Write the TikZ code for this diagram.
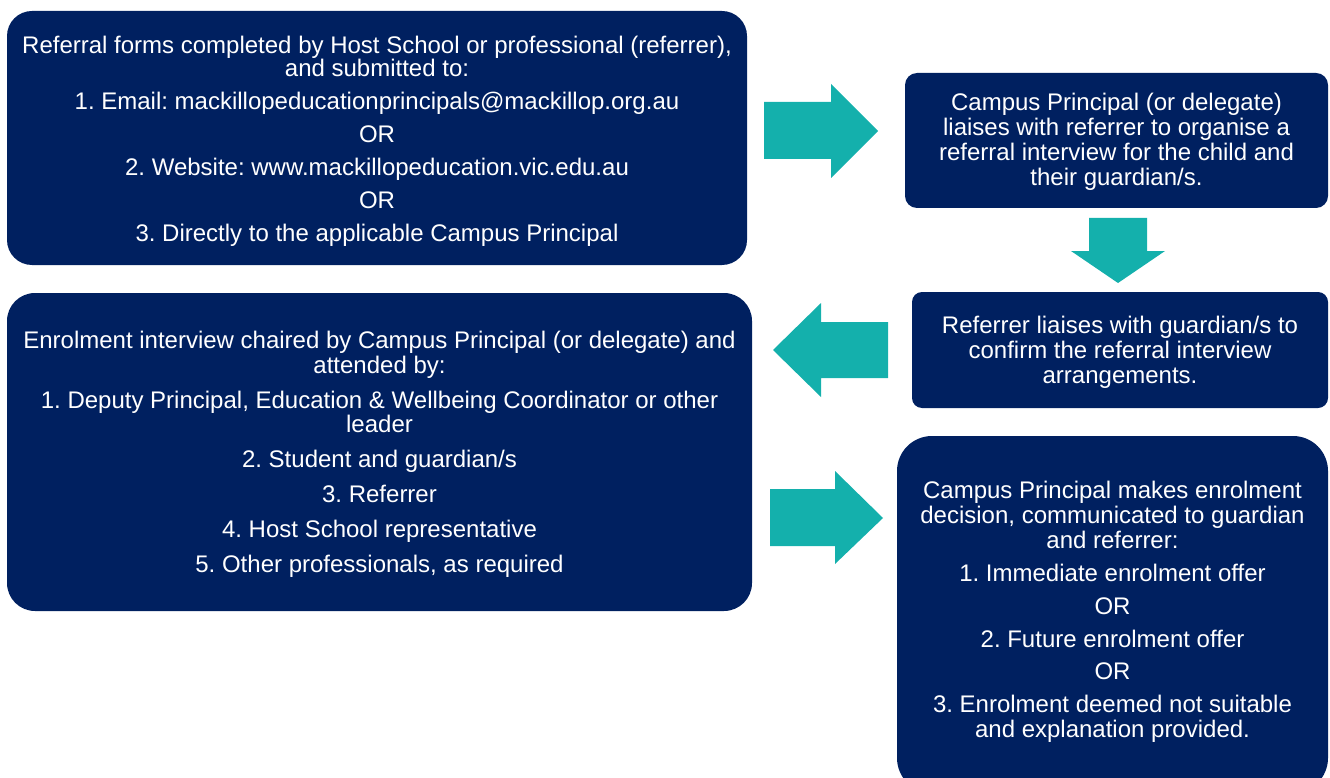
\documentclass[tikz,border=0pt]{standalone}
\usepackage{fontspec}
\setmainfont{Liberation Sans}
\definecolor{navy}{RGB}{0,32,96}
\definecolor{teal}{RGB}{20,176,172}
\tikzset{
  stage/.style={fill=navy, inner sep=0pt},
  stagetext/.style={text=white, align=center, inner sep=0pt,
    font=\fontsize{24}{25}\selectfont\frenchspacing},
  flow/.style={fill=teal, draw=none},
}
\begin{document}
\begin{tikzpicture}[x=1pt,y=-1pt]
\useasboundingbox (0,0) rectangle (1330,778);

% process stages (boxes)
\node[stage, minimum width=740pt, minimum height=254pt, rounded corners=25pt] (submit) at (377,138) {};
\node[stage, minimum width=423pt, minimum height=135pt, rounded corners=12pt] (liaise) at (1116.5,140.5) {};
\node[stage, minimum width=416pt, minimum height=116pt, rounded corners=10pt] (confirm) at (1120,350) {};
\node[stage, minimum width=745pt, minimum height=318pt, rounded corners=28pt] (interview) at (379.5,452) {};
\node[stage, minimum width=431pt, minimum height=357pt, rounded corners=35pt] (decision) at (1112.5,614.5) {};

% stage texts
\node[stagetext, font=\fontsize{24}{23}\selectfont\frenchspacing] (submit text) at ([yshift=-3pt]submit.center)
  {Referral forms completed by Host School or professional (referrer),\\and submitted to:\\[10pt]
   1. Email: mackillopeducationprincipals@mackillop.org.au\\[10pt]
   OR\\[10pt]
   2. Website: www.mackillopeducation.vic.edu.au\\[10pt]
   OR\\[10pt]
   3. Directly to the applicable Campus Principal};

\node[stagetext] (liaise text) at ([yshift=-1pt]liaise.center)
  {Campus Principal (or delegate)\\liaises with referrer to organise a\\referral interview for the child and\\their guardian/s.};

\node[stagetext] (confirm text) at ([yshift=-2pt]confirm.center)
  {Referrer liaises with guardian/s to\\confirm the referral interview\\arrangements.};

\node[stagetext, font=\fontsize{24}{24.5}\selectfont\frenchspacing] (interview text) at ([yshift=-2.5pt]interview.center)
  {Enrolment interview chaired by Campus Principal (or delegate) and\\attended by:\\[10.5pt]
   1. Deputy Principal, Education \& Wellbeing Coordinator or other\\leader\\[10.5pt]
   2. Student and guardian/s\\[10.5pt]
   3. Referrer\\[10.5pt]
   4. Host School representative\\[10.5pt]
   5. Other professionals, as required};

\node[stagetext] (decision text) at ([yshift=2.5pt]decision.center)
  {Campus Principal makes enrolment\\decision, communicated to guardian\\and referrer:\\[7.8pt]
   1. Immediate enrolment offer\\[7.8pt]
   OR\\[7.8pt]
   2. Future enrolment offer\\[7.8pt]
   OR\\[7.8pt]
   3. Enrolment deemed not suitable\\and explanation provided.};

% block arrows between stages
\fill[flow] (764,102) -- (831,102) -- (831,84) -- (878,131) -- (831,178) -- (831,159) -- (764,159) -- cycle;
\fill[flow] (1089,218) -- (1147,218) -- (1147,251) -- (1165,251) -- (1118,283) -- (1071,251) -- (1089,251) -- cycle;
\fill[flow] (888,322) -- (821,322) -- (821,303) -- (773,350) -- (821,397) -- (821,378) -- (888,378) -- cycle;
\fill[flow] (770,489) -- (835,489) -- (835,471) -- (883,518) -- (835,564) -- (835,546) -- (770,546) -- cycle;
\end{tikzpicture}
\end{document}
